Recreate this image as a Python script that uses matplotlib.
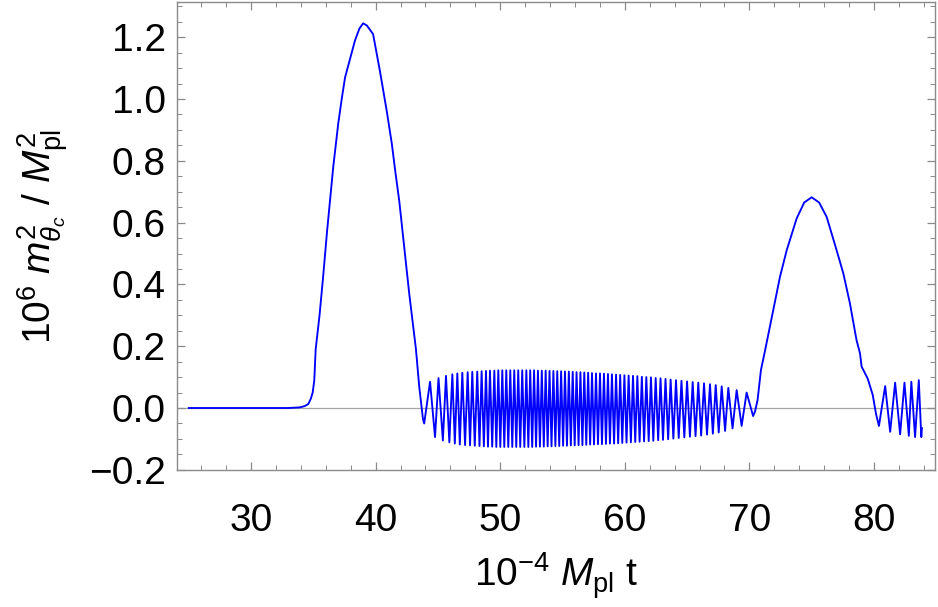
import numpy as np
import matplotlib
matplotlib.use("Agg")
import matplotlib.pyplot as plt
from matplotlib.ticker import MultipleLocator

plt.rcParams['font.family'] = ['Liberation Sans', 'DejaVu Sans']
plt.rcParams['mathtext.fontset'] = 'custom'
plt.rcParams['mathtext.rm'] = 'Liberation Sans'
plt.rcParams['mathtext.it'] = 'Liberation Sans:italic'

# first bump
bump1_t = [25.0, 33.0, 33.9, 34.3, 34.6, 34.8, 34.95, 35.08, 35.19, 35.5, 35.8, 36.1,
           36.34, 36.6, 37.0, 37.28, 37.55, 37.95, 38.35, 38.7, 39.0, 39.3, 39.8,
           40.35, 40.9, 41.3, 41.6, 41.9, 42.3, 42.7, 43.0, 43.24, 43.5, 43.7, 43.8]
bump1_v = [0.0, 0.0, 0.002, 0.006, 0.013, 0.03, 0.05, 0.09, 0.19, 0.30, 0.43, 0.57,
           0.67, 0.78, 0.92, 1.0, 1.07, 1.13, 1.19, 1.228, 1.245, 1.238, 1.21,
           1.09, 0.96, 0.856, 0.76, 0.67, 0.52, 0.37, 0.27, 0.19, 0.07, 0.0, -0.035]

# fast oscillation: maxima and minima
peak_t = [44.37, 45.05, 45.65, 46.16, 46.56, 46.96, 47.39, 47.76, 48.16, 48.51,
          48.86, 49.18, 49.53, 49.85, 50.17, 50.49, 50.81, 51.13, 51.45, 51.77,
          52.10, 52.41, 52.72, 53.03, 53.34, 53.65, 53.96, 54.27, 54.58, 54.89,
          55.20, 55.51, 55.82, 56.13, 56.44, 56.75, 57.06, 57.37, 57.69, 58.01,
          58.33, 58.65, 58.97, 59.30, 59.63, 59.97, 60.31, 60.66, 61.01, 61.37,
          61.73, 62.10, 62.48, 62.87, 63.27, 63.68, 64.11, 64.55, 65.00, 65.45,
          65.90, 66.36, 66.84, 67.30, 67.78, 68.31, 68.98, 69.78]
peak_v = [0.085, 0.097, 0.104, 0.109, 0.112, 0.114, 0.116, 0.117, 0.118, 0.119,
          0.120, 0.121, 0.121, 0.122, 0.122, 0.122, 0.122, 0.122, 0.122, 0.122,
          0.122, 0.122, 0.122, 0.121, 0.121, 0.121, 0.120, 0.120, 0.119, 0.119,
          0.118, 0.118, 0.117, 0.116, 0.116, 0.115, 0.114, 0.113, 0.112, 0.112,
          0.111, 0.110, 0.109, 0.108, 0.107, 0.106, 0.105, 0.104, 0.103, 0.101,
          0.100, 0.099, 0.097, 0.096, 0.094, 0.092, 0.090, 0.088, 0.086, 0.084,
          0.082, 0.080, 0.077, 0.074, 0.070, 0.065, 0.058, 0.050]
trough_t = [43.90, 44.77, 45.40, 45.92, 46.36, 46.76, 47.18, 47.58, 47.96, 48.34,
            48.69, 49.02, 49.36, 49.69, 50.01, 50.33, 50.65, 50.97, 51.29, 51.61,
            51.94, 52.26, 52.57, 52.88, 53.19, 53.50, 53.81, 54.12, 54.43, 54.74,
            55.05, 55.36, 55.67, 55.98, 56.29, 56.60, 56.91, 57.22, 57.53, 57.85,
            58.17, 58.49, 58.81, 59.14, 59.47, 59.80, 60.14, 60.49, 60.84, 61.19,
            61.55, 61.92, 62.29, 62.68, 63.07, 63.48, 63.90, 64.33, 64.78, 65.23,
            65.68, 66.13, 66.60, 67.07, 67.54, 68.05, 68.65, 69.38, 70.30]
trough_v = [-0.050, -0.094, -0.105, -0.111, -0.115, -0.118, -0.120, -0.121, -0.122, -0.123,
            -0.124, -0.125, -0.125, -0.126, -0.126, -0.126, -0.126, -0.126, -0.126, -0.126,
            -0.126, -0.126, -0.126, -0.125, -0.125, -0.125, -0.124, -0.124, -0.123, -0.123,
            -0.122, -0.122, -0.121, -0.121, -0.120, -0.120, -0.119, -0.118, -0.118, -0.117,
            -0.117, -0.116, -0.115, -0.115, -0.114, -0.113, -0.112, -0.111, -0.110, -0.109,
            -0.108, -0.107, -0.106, -0.104, -0.103, -0.101, -0.099, -0.097, -0.095, -0.093,
            -0.091, -0.089, -0.086, -0.083, -0.079, -0.074, -0.066, -0.058, -0.026]

# second bump and the tail
bump2_t = [70.45, 70.66, 70.93, 71.27, 71.92, 72.46, 73.0, 73.8, 74.4, 75.0, 75.6,
           76.2, 77.0, 77.54, 78.07, 78.6, 78.88, 79.01, 79.5, 79.9, 80.17, 80.4,
           80.9, 81.3, 81.7, 82.1, 82.45, 82.8, 83.0, 83.3, 83.6, 83.8, 83.85]
bump2_v = [-0.012, 0.026, 0.123, 0.188, 0.317, 0.425, 0.511, 0.614, 0.665, 0.682, 0.665,
           0.619, 0.511, 0.436, 0.339, 0.22, 0.177, 0.134, 0.095, 0.043, -0.02, -0.058,
           0.071, -0.077, 0.082, -0.085, 0.082, -0.09, 0.085, -0.094, 0.09, -0.094, -0.065]

osc_t = np.array(peak_t + trough_t)
osc_v = np.array(peak_v + trough_v)
order = np.argsort(osc_t)
t = np.concatenate([bump1_t, osc_t[order], bump2_t])
v = np.concatenate([bump1_v, osc_v[order], bump2_v])

fig = plt.figure(figsize=(9.38, 6.07), dpi=100)
ax = fig.add_axes([0.1887, 0.2257, 0.8081, 0.7710])

ax.axhline(0, color='#a6a6a6', lw=0.9, zorder=1)
ax.plot(t, v, color='#0000ff', lw=1.35, solid_joinstyle='round', zorder=2)

ax.set_xlim(24.06, 84.9)
ax.set_ylim(-0.2006, 1.314)
ax.set_xticks([30, 40, 50, 60, 70, 80])
ax.set_yticks([-0.2, 0.0, 0.2, 0.4, 0.6, 0.8, 1.0, 1.2])
ax.set_yticklabels(['\u22120.2', '0.0', '0.2', '0.4', '0.6', '0.8', '1.0', '1.2'])
ax.xaxis.set_minor_locator(MultipleLocator(2))
ax.yaxis.set_minor_locator(MultipleLocator(0.05))

for s in ax.spines.values():
    s.set_color('#8a8a8a')
    s.set_linewidth(1.0)
ax.tick_params(which='both', direction='in', top=True, right=True,
               color='#8a8a8a', labelsize=28, labelcolor='black')
ax.tick_params(which='major', length=6, width=0.9)
ax.tick_params(which='minor', length=3.6, width=0.7)
ax.tick_params(axis='y', pad=8)
ax.tick_params(axis='x', pad=24)

ax.set_xlabel(r'$10^{-4}\ M_{\mathrm{pl}}\ \mathrm{t}$', fontsize=28, labelpad=8)
ax.set_ylabel(r'$10^{6}\ m_{\theta_c}^{2}\ /\ M_{\mathrm{pl}}^{2}$', fontsize=28, labelpad=14)

fig.savefig('out.png', dpi=100)
